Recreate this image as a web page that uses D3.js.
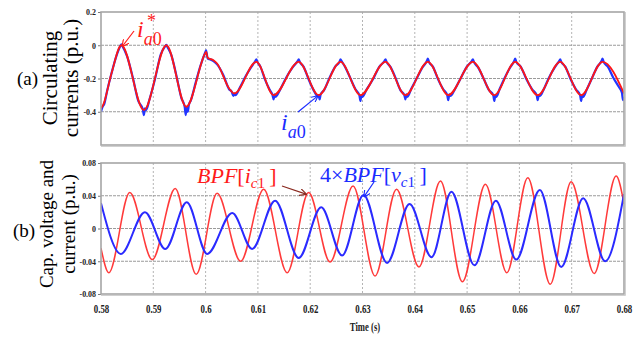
<!DOCTYPE html>
<html>
<head>
<meta charset="utf-8">
<script src="https://cdn.jsdelivr.net/npm/d3@7"></script>
<style>
  body { margin: 0; background: #fff; }
  svg { display: block; }
</style>
</head>
<body>
<div id="chart"></div>
<script>
// values
const timeTicks = [0.58, 0.59, 0.6, 0.61, 0.62, 0.63, 0.64, 0.65, 0.66, 0.67, 0.68];
const timeTickLabels = ["0.58", "0.59", "0.6", "0.61", "0.62", "0.63", "0.64", "0.65", "0.66", "0.67", "0.68"];
const circTicks = [0.2, 0, -0.2, -0.4];
const circGrid = [0, -0.2, -0.4];
const capTicks = [0.08, 0.04, 0, -0.04, -0.08];
const capGrid = [0.04, 0, -0.04];

// (a) reference circulating current i*_a0 (red)
const circRef = [
  [0.5800, -0.38], [0.5804, -0.36], [0.5820, -0.17], [0.5839, 0.00], [0.5882, -0.39], [0.5925, 0.00],
  [0.5963, -0.37], [0.5999, -0.05], [0.6001, -0.04], [0.6004, -0.075], [0.6015, -0.09], [0.6022, -0.11],
  [0.6045, -0.26], [0.6055, -0.29],
  [0.6097, -0.10], [0.6130, -0.30], [0.6178, -0.10], [0.6216, -0.30], [0.6258, -0.10],
  [0.6296, -0.30], [0.6344, -0.10], [0.6382, -0.30], [0.6425, -0.10], [0.6464, -0.30],
  [0.6511, -0.10], [0.6552, -0.30], [0.6592, -0.10], [0.6635, -0.30], [0.6678, -0.10],
  [0.6718, -0.30], [0.6759, -0.10], [0.6800, -0.29]
];

// (a) measured circulating current i_a0 (blue, follows the red with noise at peaks and troughs)
const circMeas = [
  [0.5800, -0.40], [0.5803, -0.37], [0.5806, -0.355], [0.5812, -0.27], [0.5820, -0.17], [0.5830, -0.06],
  [0.5837, -0.005], [0.5839, 0.005], [0.5841, -0.005],
  [0.58498, -0.065], [0.58605, -0.19], [0.58713, -0.335],
  [0.5880, -0.385], [0.5882, -0.42], [0.5884, -0.38], [0.5886, -0.39],
  [0.58928, -0.325], [0.59035, -0.20], [0.59143, -0.055],
  [0.5923, -0.005], [0.5925, 0.003], [0.5927, -0.01],
  [0.59345, -0.06], [0.5944, -0.18], [0.59535, -0.315],
  [0.5960, -0.37], [0.5962, -0.42], [0.5964, -0.37], [0.5966, -0.40], [0.5968, -0.36],
  [0.5972, -0.33], [0.5981, -0.225], [0.5990, -0.125],
  [0.5999, -0.045], [0.6001, -0.03], [0.6004, -0.08], [0.6009, -0.085], [0.6015, -0.095], [0.6022, -0.115],
  [0.6034, -0.18], [0.6045, -0.265], [0.6050, -0.28], [0.6053, -0.305], [0.6055, -0.29], [0.6057, -0.30],
  [0.60655, -0.255], [0.6076, -0.19], [0.60865, -0.135],
  [0.6095, -0.095], [0.6097, -0.085], [0.6099, -0.10],
  [0.6105, -0.13], [0.61135, -0.205], [0.6122, -0.265],
  [0.6128, -0.30], [0.6130, -0.325], [0.6132, -0.295], [0.6134, -0.31],
  [0.6142, -0.27], [0.6154, -0.195], [0.6166, -0.135],
  [0.6176, -0.095], [0.6178, -0.085], [0.6180, -0.10],
  [0.61875, -0.13], [0.6197, -0.205], [0.62065, -0.27],
  [0.6214, -0.305], [0.6216, -0.30], [0.6218, -0.325], [0.6220, -0.295],
  [0.62265, -0.27], [0.6237, -0.195], [0.62475, -0.13],
  [0.6256, -0.10], [0.6258, -0.085], [0.6260, -0.095],
  [0.62675, -0.135], [0.6277, -0.20], [0.62865, -0.265],
  [0.6294, -0.30], [0.6296, -0.335], [0.6298, -0.30], [0.6300, -0.31],
  [0.6308, -0.265], [0.6320, -0.205], [0.6332, -0.13],
  [0.6342, -0.095], [0.6344, -0.085], [0.6346, -0.10],
  [0.63535, -0.13], [0.6363, -0.195], [0.63725, -0.27],
  [0.6380, -0.30], [0.6382, -0.325], [0.6384, -0.295], [0.6386, -0.31],
  [0.63928, -0.265], [0.64035, -0.20], [0.64143, -0.135],
  [0.6423, -0.095], [0.6425, -0.08], [0.6427, -0.10],
  [0.64348, -0.13], [0.64445, -0.205], [0.64543, -0.265],
  [0.6462, -0.30], [0.6464, -0.33], [0.6466, -0.295], [0.6468, -0.305],
  [0.64758, -0.27], [0.64875, -0.20], [0.64993, -0.13],
  [0.6509, -0.095], [0.6511, -0.085], [0.6513, -0.10],
  [0.65213, -0.135], [0.65315, -0.20], [0.65418, -0.27],
  [0.6550, -0.30], [0.6552, -0.335], [0.6554, -0.30], [0.6556, -0.31],
  [0.6562, -0.265], [0.6572, -0.195], [0.6582, -0.135],
  [0.6590, -0.095], [0.6592, -0.08], [0.6594, -0.10],
  [0.66028, -0.13], [0.66135, -0.205], [0.66243, -0.265],
  [0.6633, -0.30], [0.6635, -0.33], [0.6637, -0.30], [0.6639, -0.305],
  [0.66458, -0.27], [0.66565, -0.195], [0.66673, -0.135],
  [0.6676, -0.095], [0.6678, -0.085], [0.6680, -0.10],
  [0.6688, -0.13], [0.6698, -0.205], [0.6708, -0.265],
  [0.6716, -0.30], [0.6718, -0.335], [0.6720, -0.30], [0.6722, -0.31],
  [0.67283, -0.27], [0.67385, -0.20], [0.67488, -0.13],
  [0.6757, -0.095], [0.6759, -0.08], [0.6761, -0.10],
  [0.67693, -0.13], [0.67795, -0.195], [0.6790, -0.25],
  [0.6796, -0.285], [0.6798, -0.33], [0.6800, -0.31]
];

// (b) BPF[i_c1] (red), extrema
const bpfCurrent = [
  [0.5800, -0.024], [0.5815, -0.054], [0.5855, 0.044], [0.5898, -0.038], [0.5942, 0.049],
  [0.5982, -0.056], [0.6022, 0.043], [0.6067, -0.040], [0.6111, 0.048], [0.6156, -0.054],
  [0.6197, 0.044], [0.6238, -0.041], [0.6282, 0.052], [0.6324, -0.058], [0.6365, 0.048],
  [0.6408, -0.047], [0.6449, 0.058], [0.6491, -0.065], [0.6535, 0.054], [0.6576, -0.054],
  [0.6616, 0.062], [0.6659, -0.068], [0.6699, 0.057], [0.6743, -0.055], [0.6785, 0.064],
  [0.6800, 0.030]
];

// (b) 4 x BPF[v_c1] (blue), extrema
const bpfVoltage = [
  [0.5800, 0.031], [0.5838, -0.031], [0.5884, 0.020], [0.5923, -0.025], [0.5964, 0.032],
  [0.6003, -0.031], [0.6051, 0.019], [0.6089, -0.025], [0.6133, 0.034], [0.6178, -0.036],
  [0.6221, 0.026], [0.6261, -0.033], [0.6302, 0.041], [0.6347, -0.042], [0.6390, 0.030],
  [0.6432, -0.035], [0.6470, 0.045], [0.6514, -0.045], [0.6555, 0.034], [0.6594, -0.038],
  [0.6639, 0.047], [0.6680, -0.047], [0.6722, 0.037], [0.6764, -0.040], [0.6800, 0.042]
];

const width = 635;
const height = 337;
const left = 101, right = 624;
const topA = 12, bottomA = 145;
const topB = 163, bottomB = 294;
const serif = '"Liberation Serif", "Times New Roman", serif';

const svg = d3.select("#chart").append("svg")
  .attr("width", width)
  .attr("height", height)
  .style("background", "#fff");

const x = d3.scaleLinear().domain([0.58, 0.68]).range([left, right]);
const yA = d3.scaleLinear().domain([-0.6, 0.2]).range([bottomA, topA]);
const yB = d3.scaleLinear().domain([-0.08, 0.08]).range([bottomB, topB]);

// arrow heads
const defs = svg.append("defs");
function marker(id, color) {
  defs.append("marker")
    .attr("id", id)
    .attr("viewBox", "0 0 10 10")
    .attr("refX", 9).attr("refY", 5)
    .attr("markerWidth", 7).attr("markerHeight", 7)
    .attr("markerUnits", "userSpaceOnUse")
    .attr("orient", "auto")
    .append("path")
    .attr("d", "M0,0 L10,5 L0,10")
    .attr("fill", "none")
    .attr("stroke", color)
    .attr("stroke-width", 1.6);
}
marker("arRed", "#ff1a1a");
marker("arBlue", "#1a2cff");
marker("arDark", "#8a2a20");

function panel(y, top, bottom, gridVals, ticks, clipId) {
  const g = svg.append("g");

  defs.append("clipPath").attr("id", clipId)
    .append("rect")
    .attr("x", left).attr("y", top)
    .attr("width", right - left).attr("height", bottom - top);

  // vertical grid
  g.selectAll(".vgrid")
    .data(timeTicks.slice(1, -1))
    .enter().append("line")
    .attr("x1", d => x(d)).attr("x2", d => x(d))
    .attr("y1", top).attr("y2", bottom)
    .attr("stroke", "#b4b4b4")
    .attr("stroke-width", 1)
    .attr("stroke-dasharray", "2,2");

  // horizontal grid
  g.selectAll(".hgrid")
    .data(gridVals)
    .enter().append("line")
    .attr("x1", left).attr("x2", right)
    .attr("y1", d => y(d)).attr("y2", d => y(d))
    .attr("stroke", "#9a9a9a")
    .attr("stroke-width", 1)
    .attr("stroke-dasharray", "3,1");

  // y axis labels
  const ax = g.append("g")
    .attr("transform", `translate(${left},0)`)
    .call(d3.axisLeft(y).tickValues(ticks).tickSize(3).tickFormat(d => String(d)));
  ax.select(".domain").remove();
  ax.selectAll(".tick line").attr("stroke", "#777");
  ax.selectAll(".tick text")
    .attr("x", -5 / 0.88)
    .attr("transform", "scale(0.88,1)")
    .style("font-family", serif)
    .style("font-weight", "bold")
    .style("font-size", "9px")
    .attr("fill", "#222");

  return g;
}

const gA = panel(yA, topA, bottomA, circGrid, circTicks, "clipA");
const gB = panel(yB, topB, bottomB, capGrid, capTicks, "clipB");

// curves
const lineA = d3.line().x(d => x(d[0])).y(d => yA(d[1])).curve(d3.curveMonotoneX);
const lineB = d3.line().x(d => x(d[0])).y(d => yB(d[1])).curve(d3.curveMonotoneX);

gA.append("path").datum(circMeas)
  .attr("clip-path", "url(#clipA)")
  .attr("d", lineA)
  .attr("fill", "none")
  .attr("stroke", "#2235ff")
  .attr("stroke-width", 2.2)
  .attr("stroke-linejoin", "round");

gA.append("path").datum(circRef)
  .attr("clip-path", "url(#clipA)")
  .attr("d", lineA)
  .attr("fill", "none")
  .attr("stroke", "#ff1616")
  .attr("stroke-width", 1.8);

gB.append("path").datum(bpfCurrent)
  .attr("clip-path", "url(#clipB)")
  .attr("d", lineB)
  .attr("fill", "none")
  .attr("stroke", "#ff3a3a")
  .attr("stroke-width", 1.5);

gB.append("path").datum(bpfVoltage)
  .attr("clip-path", "url(#clipB)")
  .attr("d", lineB)
  .attr("fill", "none")
  .attr("stroke", "#2a2aff")
  .attr("stroke-width", 2);

// frames
[[topA, bottomA], [topB, bottomB]].forEach(([t, b]) => {
  svg.append("rect")
    .attr("x", left).attr("y", t)
    .attr("width", right - left).attr("height", b - t)
    .attr("fill", "none")
    .attr("stroke", "#a6a6a6")
    .attr("stroke-width", 1.6);
  svg.append("path")
    .attr("d", `M${left},${b + 1.5}H${right + 1.5}V${t}`)
    .attr("fill", "none")
    .attr("stroke", "#d0d0d0")
    .attr("stroke-width", 1);
});

// x axis (bottom panel only)
const xAxis = svg.append("g")
  .attr("transform", `translate(0,${bottomB})`)
  .call(d3.axisBottom(x).tickValues(timeTicks).tickSize(0).tickFormat((d, i) => timeTickLabels[i]));
xAxis.select(".domain").remove();
xAxis.selectAll(".tick text")
  .attr("y", 19).attr("dy", 0)
  .attr("transform", "scale(0.68,1)")
  .style("font-family", serif)
  .style("font-weight", "bold")
  .style("font-size", "13px")
  .attr("fill", "#222");

svg.append("text")
  .attr("transform", "translate(365,331) scale(0.72,1)")
  .attr("text-anchor", "middle")
  .style("font-family", serif)
  .style("font-weight", "bold")
  .style("font-size", "12px")
  .attr("fill", "#222")
  .text("Time (s)");

// y titles and panel tags
function yTitle(lines, xs, yc, size) {
  lines.forEach((t, i) => {
    svg.append("text")
      .attr("transform", `translate(${xs[i]},${yc}) rotate(-90)`)
      .attr("text-anchor", "middle")
      .style("font-family", serif)
      .style("font-size", size + "px")
      .attr("fill", "#000")
      .text(t);
  });
}
yTitle(["Circulating", "currents (p.u.)"], [57, 78], 78, 21);
yTitle(["Cap. voltage and", "current (p.u.)"], [53, 75], 224, 19);

svg.append("text").attr("x", 17).attr("y", 85)
  .style("font-family", serif).style("font-size", "19px").text("(a)");
svg.append("text").attr("x", 13).attr("y", 237)
  .style("font-family", serif).style("font-size", "19px").text("(b)");

// annotations
function arrow(x1, y1, x2, y2, color, id) {
  svg.append("line")
    .attr("x1", x1).attr("y1", y1).attr("x2", x2).attr("y2", y2)
    .attr("stroke", color).attr("stroke-width", 1.2)
    .attr("marker-end", `url(#${id})`);
}

// i*_a0
const iRef = svg.append("text").attr("x", 137).attr("y", 37)
  .style("font-family", serif).attr("fill", "#ff1a1a");
iRef.append("tspan").style("font-style", "italic").style("font-size", "24px").text("i");
iRef.append("tspan").attr("dy", 8).style("font-style", "italic").style("font-size", "18px").text("a");
iRef.append("tspan").style("font-size", "18px").text("0");
svg.append("text").attr("x", 147).attr("y", 27)
  .style("font-family", serif).style("font-size", "18px").attr("fill", "#ff1a1a").text("*");
arrow(134, 31, x(0.5839) + 1, yA(0) + 1, "#ff1a1a", "arRed");

// i_a0
const iMeas = svg.append("text").attr("x", 281).attr("y", 130)
  .style("font-family", serif).attr("fill", "#1a2cff");
iMeas.append("tspan").style("font-style", "italic").style("font-size", "24px").text("i");
iMeas.append("tspan").attr("dy", 8).style("font-style", "italic").style("font-size", "18px").text("a");
iMeas.append("tspan").style("font-size", "18px").text("0");
arrow(298, 112, x(0.6214), yA(-0.30) + 1, "#1a2cff", "arBlue");

// BPF[i_c1]
const bpfI = svg.append("text").attr("x", 197).attr("y", 183)
  .style("font-family", serif).style("font-size", "22px").attr("fill", "#ff1a1a");
bpfI.append("tspan").style("font-style", "italic").text("BPF");
bpfI.append("tspan").text("[");
bpfI.append("tspan").style("font-style", "italic").text("i");
bpfI.append("tspan").attr("dy", 5).style("font-style", "italic").style("font-size", "15px").text("c");
bpfI.append("tspan").style("font-size", "15px").text("1");
bpfI.append("tspan").attr("dy", -5).text("\u2009]");
arrow(282, 186, x(0.6192), yB(0.042), "#8a2a20", "arDark");

// 4 x BPF[v_c1]
const bpfV = svg.append("text").attr("x", 320).attr("y", 182)
  .style("font-family", serif).style("font-size", "22px").attr("fill", "#1a2cff");
bpfV.append("tspan").text("4\u00d7");
bpfV.append("tspan").style("font-style", "italic").text("BPF");
bpfV.append("tspan").text("[");
bpfV.append("tspan").style("font-style", "italic").text("v");
bpfV.append("tspan").attr("dy", 5).style("font-style", "italic").style("font-size", "15px").text("c");
bpfV.append("tspan").style("font-size", "15px").text("1");
bpfV.append("tspan").attr("dy", -5).text("\u2009]");
arrow(374, 182, x(0.6303), yB(0.039), "#1a2cff", "arBlue");
</script>
</body>
</html>
